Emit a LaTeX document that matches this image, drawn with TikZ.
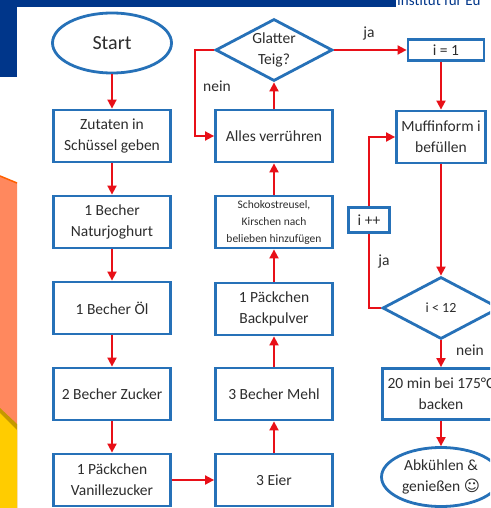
\documentclass[tikz,border=0pt]{standalone}
\usepackage{fontspec}
\setmainfont{Carlito}
\newfontfamily\smileyfont{DejaVu Sans}
\usepackage{tikz}
\usepackage{xcolor}
\usetikzlibrary{shapes.geometric,arrows.meta}

\definecolor{boxblue}{RGB}{38,113,184}
\definecolor{flowred}{RGB}{232,16,24}
\definecolor{bannerblue}{RGB}{0,54,138}
\definecolor{bgorange}{RGB}{255,136,94}
\definecolor{edgeorange}{RGB}{255,96,0}
\definecolor{bgyellow}{RGB}{255,204,0}
\definecolor{bggold}{RGB}{196,152,0}
\definecolor{textgray}{RGB}{45,45,45}

\begin{document}
\begin{tikzpicture}[x=1pt,y=-1pt,
	box/.style={draw=boxblue, line width=2.8pt, fill=white, text=textgray, align=center, inner sep=1pt,
		minimum width=117pt, minimum height=52pt, font=\fontsize{15.5}{21}\selectfont},
	rhombus/.style={box, diamond, aspect=1.85, inner sep=0pt, minimum width=117pt, minimum height=62pt},
	oval/.style={box, ellipse, minimum width=119pt, minimum height=60pt},
	flow/.style={draw=flowred, line width=1.8pt, -{Triangle[length=9pt,width=9pt]}},
	redline/.style={draw=flowred, line width=1.8pt},
	lbl/.style={text=textgray, font=\fontsize{15.5}{18}\selectfont, inner sep=0pt}]

\def\colA{112}
\def\colB{274}
\def\colC{441}

\useasboundingbox (0,0) rectangle (490,508);
\clip (0,0) rectangle (490,508);

% background
\fill[white] (0,0) rectangle (490,508);
\fill[bannerblue] (0,0) rectangle (396,7);
\fill[bannerblue] (0,0) rectangle (17,77);
\fill[bgorange] (0,176) -- (17,183) -- (17,508) -- (0,508) -- cycle;
\draw[edgeorange, line width=1.5pt] (0,176) -- (17,183);
\fill[bggold] (0,408) -- (17,424) -- (17,508) -- (0,508) -- cycle;
\fill[bgyellow] (0,413) -- (17,430) -- (17,508) -- (0,508) -- cycle;
\node[anchor=base west, text=bannerblue, font=\fontsize{15}{15}\selectfont, inner sep=0pt] (institut) at (397,6) {Institut für Eu};

% left column
\node[oval, font=\fontsize{20}{24}\selectfont] (start) at (\colA,43) {Start};
\node[box] (zutaten) at (\colA,136) {Zutaten in\\Schüssel geben};
\node[box] (joghurt) at (\colA,222) {1 Becher\\Naturjoghurt};
\node[box] (oel) at (\colA,308) {1 Becher Öl};
\node[box] (zucker) at (\colA,394) {2 Becher Zucker};
\node[box] (vanille) at (\colA,480) {1 Päckchen\\Vanillezucker};

% middle column
\node[box] (eier) at (\colB,480) {3 Eier};
\node[box] (mehl) at (\colB,394) {3 Becher Mehl};
\node[box] (backpulver) at (\colB,309) {1 Päckchen\\Backpulver};
\node[box, font=\fontsize{11.5}{17}\selectfont] (schoko) at (\colB,222) {Schokostreusel,\\Kirschen nach\\belieben hinzufügen};
\node[box] (ruehren) at (\colB,136) {Alles verrühren};
\node[rhombus] (teig) at (\colB,50) {Glatter\\Teig?};

% right column
\node[box, minimum width=76pt, minimum height=21pt] (ieins) at (446,50) {i = 1};
\node[box, minimum width=89pt] (muffin) at (\colC,137) {Muffinform i\\befüllen};
\node[box, minimum width=41pt, minimum height=25pt] (iplus) at (369,220) {i ++};
\node[rhombus, font=\fontsize{14}{17}\selectfont] (ikleiner) at (\colC,308) {i < 12};
\node[box, minimum height=51pt] (backen) at (\colC,394) {20 min bei 175°C\\backen};
\node[oval, minimum height=59pt] (ende) at (\colC,477) {Abkühlen \&\\genießen {\smileyfont ☺}};

% connectors
\foreach \a/\b in {start/zutaten, zutaten/joghurt, joghurt/oel, oel/zucker, zucker/vanille,
		vanille/eier, eier/mehl, mehl/backpulver, backpulver/schoko, schoko/ruehren, ruehren/teig}
	\draw[flow] (\a) -- (\b);

\coordinate (neinknick) at (195,50);
\draw[flow] (teig.west) -- (neinknick) |- (ruehren.west);
\node[lbl, anchor=west] (nein1) at (203,86) {nein};

\draw[flow] (teig.east) -- (ieins.west);
\node[lbl] (ja1) at (369,33) {ja};
\draw[flow] (ieins.south -| muffin.north) -- (muffin.north);

\draw[flow] (muffin) -- (ikleiner);
\draw[redline] (ikleiner.west) -| (iplus.south);
\draw[flow] (iplus.north) |- (muffin.west);
\node[lbl] (ja2) at (384,261) {ja};

\draw[flow] (ikleiner) -- (backen);
\node[lbl] (nein2) at (470,350) {nein};
\draw[flow] (backen) -- (ende);

\end{tikzpicture}
\end{document}
